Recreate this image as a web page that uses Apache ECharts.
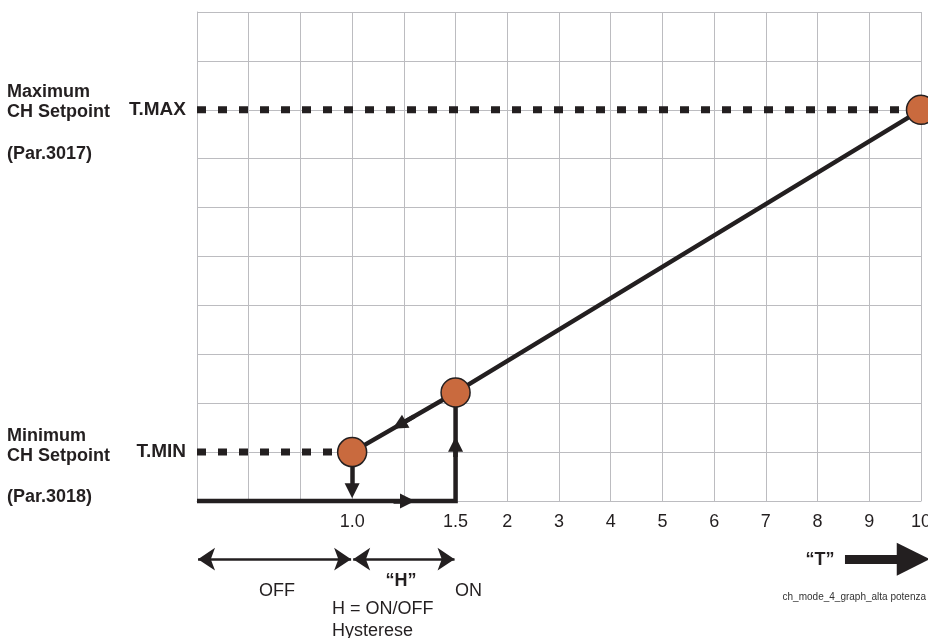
<!DOCTYPE html>
<html>
<head>
<meta charset="utf-8">
<script src="https://cdn.jsdelivr.net/npm/echarts@6/dist/echarts.min.js"></script>
<style>
  html, body { margin: 0; padding: 0; background: #fff; }
  #chart { width: 928px; height: 638px; }
</style>
</head>
<body>
<div id="chart"></div>
<script>
// x grid columns 0..14, labels only where the drawing shows them
const xTickLabels = ['', '', '', '1.0', '', '1.5', '2', '3', '4', '5', '6', '7', '8', '9', '10']
const setpointLevels = [1, 8]
const setpointNames = ['T.MIN', 'T.MAX']

// curve: T.MIN point, ON point, T.MAX point
const curve = [[3, 1], [5, 2.22], [14, 8]]
const offPath = [[0, 0], [5, 0], [5, 2.22]]
const tmaxDash = [[0, 8], [14, 8]]
const tminDash = [[0, 1], [3, 1]]

// direction arrows on the path (end = centre of the head)
const flowArrows = [
  [[3, 0.7], [3, 0.21]],
  [[3.8, 0], [4.07, 0]],
  [[5, 0.9], [5, 1.16]],
  [[4.2, 1.73], [3.91, 1.555]]
]
// range arrows under the axis (OFF / H)
const rangeArrows = [
  [[0.02, -1.19], [2.98, -1.19]],
  [[3.02, -1.19], [4.98, -1.19]]
]
const tArrow = [[12.53, -1.19], [13.85, -1.19]]

const INK = '#231f20'
const DOT = '#c96a3e'

var chart = echarts.init(document.getElementById('chart'), null, { renderer: 'canvas' })

function arrowSeries(list, width, sym, size, both) {
  return {
    type: 'lines',
    coordinateSystem: 'cartesian2d',
    clip: false,
    z: 3,
    symbol: both ? [sym, sym] : ['none', sym],
    symbolSize: size,
    lineStyle: { color: INK, width: width, opacity: 1 },
    data: list.map(function (c) { return { coords: c } })
  }
}

var txt = function (x, y, text, extra) {
  return {
    type: 'text', x: x, y: y,
    style: Object.assign({
      text: text, fill: '#231f20', font: 'bold 18px "Liberation Sans", Arial, sans-serif',
      textVerticalAlign: 'middle'
    }, extra || {})
  }
}

var option = {
  backgroundColor: '#ffffff',
  animation: false,
  grid: { left: 197, right: 7, top: 12, bottom: 137, containLabel: false, outerBoundsMode: 'none' },
  xAxis: {
    type: 'value', min: 0, max: 14, interval: 1,
    axisLine: { show: true, lineStyle: { color: '#bcbcc0', width: 1 } },
    axisTick: { show: false },
    splitLine: { show: true, lineStyle: { color: '#bcbcc0', width: 1 } },
    axisLabel: {
      margin: 12, color: '#231f20', fontSize: 18,
      fontFamily: '"Liberation Sans", Arial, sans-serif',
      formatter: function (v) { return xTickLabels[v] || '' }
    }
  },
  yAxis: {
    type: 'value', min: 0, max: 10, interval: 1,
    axisLine: { show: true, lineStyle: { color: '#bcbcc0', width: 1 } },
    axisTick: { show: false },
    splitLine: { show: true, lineStyle: { color: '#bcbcc0', width: 1 } },
    axisLabel: {
      margin: 11, color: '#231f20', fontSize: 19, fontWeight: 'bold',
      fontFamily: '"Liberation Sans", Arial, sans-serif',
      formatter: function (v) {
        var i = setpointLevels.indexOf(v)
        return i >= 0 ? setpointNames[i] : ''
      }
    }
  },
  series: [
    {
      type: 'line', data: tmaxDash, symbol: 'none', z: 2,
      lineStyle: { color: INK, width: 7, type: [9, 12], cap: 'butt' }
    },
    {
      type: 'line', data: tminDash, symbol: 'none', z: 2,
      lineStyle: { color: INK, width: 7, type: [9, 12], cap: 'butt' }
    },
    {
      type: 'line', data: offPath, symbol: 'none', z: 3, clip: false,
      lineStyle: { color: INK, width: 4.5, join: 'miter' }
    },
    {
      type: 'line', data: curve, symbol: 'none', z: 3, clip: false,
      lineStyle: { color: INK, width: 4.5 }
    },
    arrowSeries(flowArrows, 4.5, 'triangle', 15, false),
    arrowSeries(rangeArrows, 2.5, 'arrow', 17, true),
    arrowSeries([tArrow], 9, 'triangle', 33, false),
    {
      type: 'scatter', data: curve, clip: false, z: 5,
      symbolSize: 29,
      itemStyle: { color: DOT, borderColor: INK, borderWidth: 1.5, opacity: 1 }
    }
  ],
  graphic: [
    txt(7, 92, 'Maximum'),
    txt(7, 112, 'CH Setpoint'),
    txt(7, 154, '(Par.3017)'),
    txt(7, 436, 'Minimum'),
    txt(7, 456, 'CH Setpoint'),
    txt(7, 497, '(Par.3018)'),
    txt(277, 591, 'OFF', { font: '18px "Liberation Sans", Arial, sans-serif', textAlign: 'center' }),
    txt(401, 581, '\u201cH\u201d', { textAlign: 'center' }),
    txt(455, 591, 'ON', { font: '18px "Liberation Sans", Arial, sans-serif' }),
    txt(332, 609, 'H = ON/OFF', { font: '18px "Liberation Sans", Arial, sans-serif' }),
    txt(332, 631, 'Hysterese', { font: '18px "Liberation Sans", Arial, sans-serif' }),
    txt(820, 560, '\u201cT\u201d', { textAlign: 'center' }),
    txt(926, 597, 'ch_mode_4_graph_alta potenza', { font: '10px "Liberation Sans Narrow", "Liberation Sans", Arial, sans-serif', textAlign: 'right', fill: '#333' })
  ]
}

chart.setOption(option)
</script>
</body>
</html>
